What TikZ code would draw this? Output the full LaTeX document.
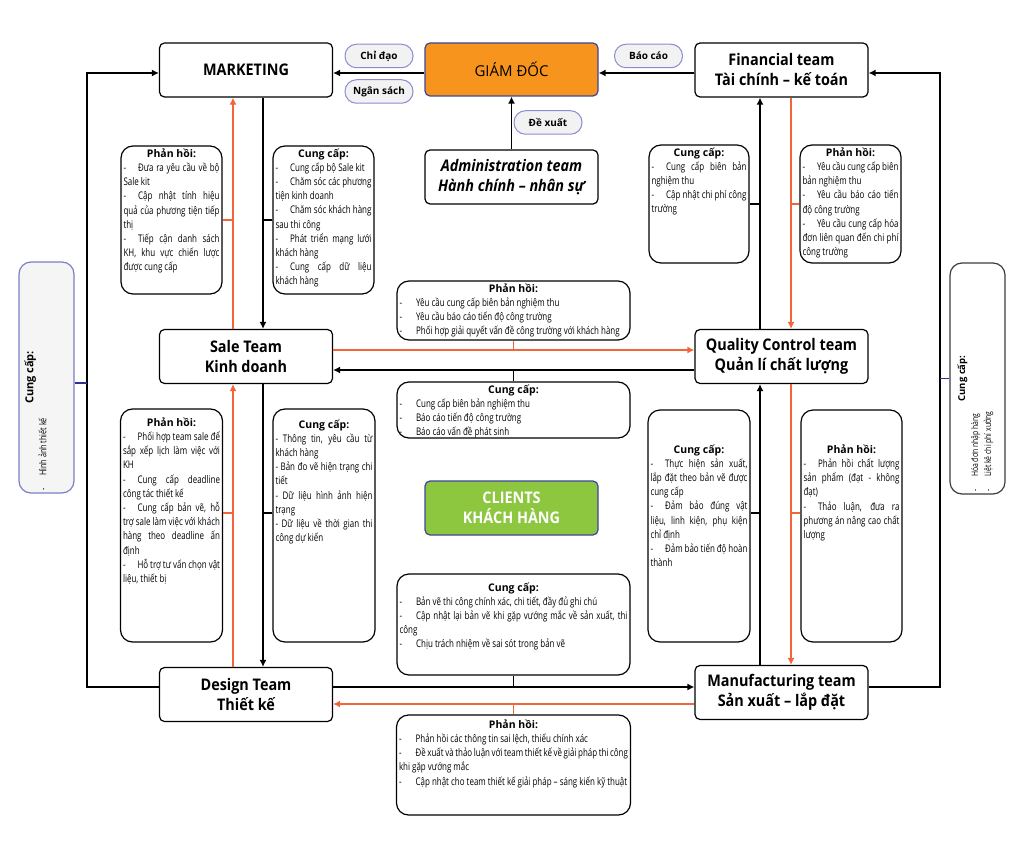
\documentclass[tikz,border=0pt]{standalone}
\usepackage{fontspec}
\usepackage{graphicx}
\setmainfont{Open Sans}
\newfontfamily\condfont[FakeStretch=0.76]{Open Sans}
\newfontfamily\headfont[FakeStretch=0.9]{Open Sans}
\usetikzlibrary{arrows.meta,positioning}
\definecolor{fbline}{RGB}{242,101,56}
\definecolor{pillbd}{RGB}{140,140,210}
\definecolor{pillbg}{RGB}{242,242,242}
\definecolor{gdfill}{RGB}{247,148,30}
\definecolor{gdline}{RGB}{60,70,160}
\definecolor{cligreen}{RGB}{141,198,63}
\definecolor{sideline}{RGB}{46,49,146}
\definecolor{lbd}{RGB}{125,125,200}
\definecolor{lbg}{RGB}{245,245,245}
\definecolor{rbd}{RGB}{60,60,60}
\hyphenpenalty=10000
\exhyphenpenalty=10000
\tolerance=9999
\emergencystretch=8pt
% box contents: width, height, top pad, body
\newcommand{\infotext}[4]{\parbox[c][#2][t]{#1}{\vspace*{#3}#4}}
\newcommand{\boxtitle}[1]{{\centering\normalfont\bfseries\fontsize{10.5}{13.5}\selectfont #1\par}}
\newcommand{\itm}{\par-\hspace{12pt}}
\newcommand{\itmw}{\par-\hspace{14pt}}

\begin{document}
\begin{tikzpicture}[x=1pt,y=-1pt,
    team/.style={draw, line width=1.2pt, rounded corners=5pt, fill=white, minimum width=173pt, minimum height=54pt, align=center, inner sep=2pt, font=\headfont\bfseries\fontsize{16}{20}\selectfont},
    pill/.style={draw=pillbd, line width=1pt, fill=pillbg, rounded corners=11.5pt, minimum width=68pt, minimum height=23.5pt, inner sep=1pt, font=\bfseries\fontsize{10}{11}\selectfont},
    info/.style={draw, line width=1.2pt, rounded corners=12pt, fill=white, inner sep=2.5pt, font=\condfont\fontsize{10.5}{14.2}\selectfont},
    side/.style={draw, line width=1.2pt, rounded corners=12pt, inner sep=0pt, minimum width=55pt, minimum height=231pt},
    blk/.style={line width=1.4pt, -{Latex[length=7pt,width=7pt]}},
    fbk/.style={line width=1.4pt, draw=fbline, -{Latex[length=7pt,width=7pt]}},
    con/.style={line width=1.4pt},
    fcon/.style={line width=1.4pt, draw=fbline},
    scon/.style={line width=1.6pt, draw=sideline}]

    \fill[white] (0,0) rectangle (1024,866);
    \useasboundingbox (0,0) rectangle (1024,866);

    % Teams
    \node[team] (mkt) at (246,70) {MARKETING};
    \node[team, fill=gdfill, draw=gdline, font=\normalfont\fontsize{15}{20}\selectfont, minimum height=53pt] (gd) at (511.5,69.5) {GIÁM ĐỐC};
    \node[team] (fin) at (781.5,70) {Financial team\\Tài chính – kế toán};
    \node[team, font=\headfont\bfseries\itshape\fontsize{16}{20}\selectfont] (adm) at (511.5,177) {Administration team\\Hành chính – nhân sự};
    \node[team] (sale) at (246,356.5) {Sale Team\\Kinh doanh};
    \node[team] (qc) at (781.5,356.5) {Quality Control team\\Quản lí chất lượng};
    \node[team, fill=cligreen, draw=gdline, text=white] (cli) at (511.5,508) {CLIENTS\\KHÁCH HÀNG};
    \node[team] (des) at (246,694.5) {Design Team\\Thiết kế};
    \node[team] (mfg) at (781.5,692.5) {Manufacturing team\\Sản xuất – lắp đặt};

    % Labels on the top arrows
    \node[pill] (chidao) at (379,56) {Chỉ đạo};
    \node[pill] (ngansach) at (379,91.5) {Ngân sách};
    \node[pill] (baocao) at (648.5,56) {Báo cáo};
    \node[pill] (dexuat) at (548,122.5) {Đề xuất};

    % Marketing - Sale
    \node[info] (mkfb) at (171.5,220) {\infotext{96pt}{143pt}{0pt}{\boxtitle{Phản hồi:}
        \itm Đưa ra yêu cầu về bộ Sale kit
        \itm Cập nhật tính hiệu quả của phương tiện tiếp thị
        \itm Tiếp cận danh sách KH, khu vực chiến lược được cung cấp}};
    \node[info] (mkcc) at (323.5,220) {\infotext{96pt}{143pt}{0pt}{\boxtitle{Cung cấp:}
        \itm Cung cấp bộ Sale kit
        \itm Chăm sóc các phương tiện kinh doanh
        \itm Chăm sóc khách hàng sau thi công
        \itm Phát triển mạng lưới khách hàng
        \itm Cung cấp dữ liệu khách hàng}};

    % Financial - QC
    \node[info] (fincc) at (699,204) {\infotext{95pt}{113pt}{0pt}{\boxtitle{Cung cấp:}
        \itm Cung cấp biên bản nghiệm thu
        \itm Cập nhật chi phí công trường}};
    \node[info] (finfb) at (850.5,204) {\infotext{96pt}{113pt}{0pt}{\boxtitle{Phản hồi:}
        \itm Yêu cầu cung cấp biên bản nghiệm thu
        \itm Yêu cầu báo cáo tiến độ công trường
        \itm Yêu cầu cung cấp hóa đơn liên quan đến chi phí công trường}};

    % Sale - QC
    \node[info] (sqfb) at (513.5,310.5) {\infotext{228pt}{54pt}{0pt}{\boxtitle{Phản hồi:}
        \itmw Yêu cầu cung cấp biên bản nghiệm thu
        \itmw Yêu cầu báo cáo tiến độ công trường
        \itmw Phối hợp giải quyết vấn đề công trường với khách hàng}};
    \node[info] (sqcc) at (513.5,410) {\infotext{228pt}{51pt}{0pt}{\boxtitle{Cung cấp:}
        \itmw Cung cấp biên bản nghiệm thu
        \itmw Báo cáo tiến độ công trường
        \itmw Báo cáo vấn đề phát sinh}};

    % Sale - Design
    \node[info] (sdfb) at (171.5,525.5) {\infotext{97pt}{228pt}{6pt}{\boxtitle{Phản hồi:}
        \itm Phối hợp team sale để sắp xếp lịch làm việc với KH
        \itm Cung cấp deadline công tác thiết kế
        \itm Cung cấp bản vẽ, hỗ trợ sale làm việc với khách hàng theo deadline ấn định
        \itm Hỗ trợ tư vấn chọn vật liệu, thiết bị}};
    \node[info] (sdcc) at (324,525.5) {\infotext{97pt}{228pt}{8pt}{\boxtitle{Cung cấp:}
        \par- Thông tin, yêu cầu từ khách hàng
        \par- Bản đo vẽ hiện trạng chi tiết
        \par- Dữ liệu hình ảnh hiện trạng
        \par- Dữ liệu về thời gian thi công dự kiến}};

    % QC - Manufacturing
    \node[info] (qmcc) at (699,526) {\infotext{97pt}{227pt}{32pt}{\boxtitle{Cung cấp:}
        \itm Thực hiện sản xuất, lắp đặt theo bản vẽ được cung cấp
        \itm Đảm bảo đúng vật liệu, linh kiện, phụ kiện chỉ định
        \itm Đảm bảo tiến độ hoàn thành}};
    \node[info] (qmfb) at (851.5,526) {\infotext{96pt}{227pt}{32pt}{\boxtitle{Phản hồi:}
        \itm Phản hồi chất lượng sản phẩm (đạt - không đạt)
        \itm Thảo luận, đưa ra phương án nâng cao chất lượng}};

    % Design - Manufacturing
    \node[info] (dmcc) at (513.5,624.5) {\infotext{228pt}{96pt}{6pt}{\boxtitle{Cung cấp:}
        \itmw Bản vẽ thi công chính xác, chi tiết, đầy đủ ghi chú
        \itmw Cập nhật lại bản vẽ khi gặp vướng mắc về sản xuất, thi công
        \itmw Chịu trách nhiệm về sai sót trong bản vẽ}};
    \node[info] (dmfb) at (513.5,765) {\infotext{229pt}{95pt}{2pt}{\boxtitle{Phản hồi:}
        \itmw Phản hồi các thông tin sai lệch, thiếu chính xác
        \itmw Đề xuất và thảo luận với team thiết kế về giải pháp thi công khi gặp vướng mắc
        \itmw Cập nhật cho team thiết kế giải pháp – sáng kiến kỹ thuật}};

    % Side boxes (rotated text)
    \node[side, draw=lbd, fill=lbg] (lbox) at (46.5,377.5) {\rotatebox{90}{\parbox[c][50pt][t]{225pt}{\vspace*{3pt}%
        {\centering\bfseries\fontsize{11}{13}\selectfont Cung cấp:\par}%
        \condfont\fontsize{9.5}{13}\selectfont -\hspace{12pt}Hình ảnh thiết kế}}};
    \node[side, draw=rbd, fill=white] (rbox) at (977.5,378.5) {\rotatebox{90}{\parbox[c][50pt][t]{225pt}{\vspace*{5pt}%
        {\centering\bfseries\fontsize{9.5}{12}\selectfont Cung cấp:\par}%
        \condfont\fontsize{9}{13}\selectfont -\hspace{12pt}Hóa đơn nhập hàng\par
        -\hspace{12pt}Liệt kê chi phí xưởng}}};

    % Lanes
    \coordinate (laneA) at (233,0);
    \coordinate (laneB) at (263,0);
    \coordinate (laneC) at (760,0);
    \coordinate (laneD) at (791,0);
    \coordinate (laneL) at (87,0);
    \coordinate (laneR) at (940,0);
    \coordinate (rowT) at (0,73);
    \coordinate (rowSo) at (0,350);
    \coordinate (rowSb) at (0,370);
    \coordinate (rowM) at (0,513);
    \coordinate (rowDb) at (0,687);
    \coordinate (rowDo) at (0,704);
    \coordinate (rowLB) at (0,383);

    % Top row
    \draw[blk] (gd.west |- rowT) -- (mkt.east |- rowT);
    \draw[blk] (fin.west |- rowT) -- (gd.east |- rowT);
    \draw[blk] (adm.north) -- (gd.south);

    % Outer loops
    \draw[blk] (des.west |- rowDb) -- (laneL |- rowDb) -- (laneL |- rowT) -- (mkt.west |- rowT);
    \draw[blk] (mfg.east |- rowDb) -- (laneR |- rowDb) -- (laneR |- rowT) -- (fin.east |- rowT);
    \draw[scon] (lbox.east |- rowLB) -- (laneL |- rowLB);
    \draw[scon] (rbox.west) -- (laneR |- rbox.west);

    % Marketing - Sale
    \draw[blk] (mkt.south -| laneB) -- (sale.north -| laneB);
    \draw[fbk] (sale.north -| laneA) -- (mkt.south -| laneA);
    \draw[con] (mkcc.west) -- (mkcc.west -| laneB);
    \draw[fcon] (mkfb.east) -- (mkfb.east -| laneA);

    % Sale - Design
    \draw[blk] (sale.south -| laneB) -- (des.north -| laneB);
    \draw[fbk] (des.north -| laneA) -- (sale.south -| laneA);
    \draw[con] (sdcc.west |- rowM) -- (laneB |- rowM);
    \draw[fcon] (sdfb.east |- rowM) -- (laneA |- rowM);

    % Financial - QC
    \draw[blk] (qc.north -| laneC) -- (fin.south -| laneC);
    \draw[fbk] (fin.south -| laneD) -- (qc.north -| laneD);
    \draw[con] (fincc.east) -- (fincc.east -| laneC);
    \draw[fcon] (finfb.west) -- (finfb.west -| laneD);

    % QC - Manufacturing
    \draw[blk] (mfg.north -| laneC) -- (qc.south -| laneC);
    \draw[fbk] (qc.south -| laneD) -- (mfg.north -| laneD);
    \draw[con] (qmcc.east |- rowM) -- (laneC |- rowM);
    \draw[fcon] (qmfb.west |- rowM) -- (laneD |- rowM);

    % Sale - QC
    \draw[fbk] (sale.east |- rowSo) -- (qc.west |- rowSo);
    \draw[blk] (qc.west |- rowSb) -- (sale.east |- rowSb);
    \draw[fcon] (sqfb.south) -- (sqfb.south |- rowSo);
    \draw[con] (sqcc.north) -- (sqcc.north |- rowSb);

    % Design - Manufacturing
    \draw[blk] (des.east |- rowDb) -- (mfg.west |- rowDb);
    \draw[fbk] (mfg.west |- rowDo) -- (des.east |- rowDo);
    \draw[con] (dmcc.south) -- (dmcc.south |- rowDb);
    \draw[fcon] (dmfb.north) -- (dmfb.north |- rowDo);
\end{tikzpicture}
\end{document}
